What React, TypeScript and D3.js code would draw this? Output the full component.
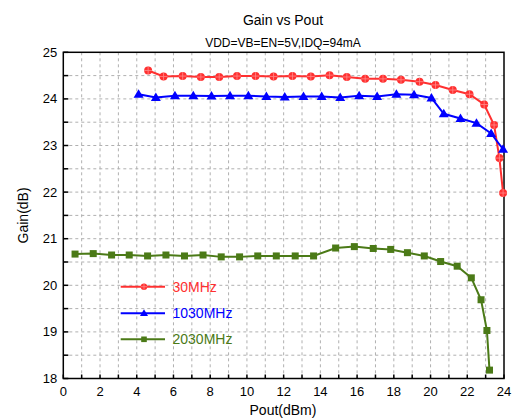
import React from "react";
import * as d3 from "d3";

const x30 = [4.62, 5.46, 6.5, 7.49, 8.49, 9.46, 10.47, 11.45, 12.48, 13.48, 14.5, 15.44, 16.44, 17.41, 18.39, 19.4, 20.27, 21.21, 22.12, 22.92, 23.46, 23.75, 23.95];
const g30 = [24.61, 24.48, 24.49, 24.47, 24.47, 24.49, 24.49, 24.48, 24.49, 24.48, 24.51, 24.47, 24.43, 24.43, 24.41, 24.37, 24.3, 24.19, 24.1, 23.88, 23.44, 22.73, 21.98];

const x1030 = [4.1, 5.04, 6.08, 7.08, 8.07, 9.08, 10.08, 11.06, 12.06, 13.08, 14.07, 15.08, 16.11, 17.09, 18.14, 19.1, 20.05, 20.72, 21.63, 22.5, 23.3, 23.95];
const g1030 = [24.1, 24.03, 24.07, 24.07, 24.06, 24.07, 24.07, 24.05, 24.04, 24.05, 24.05, 24.03, 24.07, 24.05, 24.1, 24.09, 24.02, 23.68, 23.58, 23.48, 23.26, 22.92];

const x2030 = [0.64, 1.63, 2.63, 3.59, 4.59, 5.59, 6.6, 7.61, 8.6, 9.6, 10.59, 11.6, 12.63, 13.63, 14.83, 15.85, 16.88, 17.83, 18.74, 19.66, 20.55, 21.45, 22.22, 22.75, 23.07, 23.21];
const g2030 = [20.67, 20.68, 20.65, 20.65, 20.63, 20.65, 20.63, 20.65, 20.61, 20.61, 20.63, 20.63, 20.63, 20.63, 20.8, 20.83, 20.79, 20.77, 20.7, 20.63, 20.51, 20.41, 20.16, 19.69, 19.03, 18.18];

const seriesNames = ["30MHz", "1030MHz", "2030MHz"];
const xTickLabels = [0, 2, 4, 6, 8, 10, 12, 14, 16, 18, 20, 22, 24];
const yTickLabels = [18, 19, 20, 21, 22, 23, 24, 25];

const RED = "#ff3030";
const BLUE = "#0000ff";
const GREEN = "#4b7a17";
const FONT = "'Liberation Sans', Arial, sans-serif";

function Marker({ kind, x, y, color, size = 1 }: { kind: string; x: number; y: number; color: string; size?: number }) {
  if (kind === "circle") {
    const r = 4 * size;
    return (
      <g>
        <circle cx={x} cy={y} r={r} fill={color} />
        <line x1={x - r} x2={x + r} y1={y} y2={y} stroke="#ff8a8a" strokeWidth={0.8} />
        <line x1={x} x2={x} y1={y - r} y2={y + r} stroke="#ff8a8a" strokeWidth={0.8} />
      </g>
    );
  }
  if (kind === "tri") {
    const s = 5 * size;
    return <path d={`M${x},${y - s} L${x + s},${y + s * 0.7} L${x - s},${y + s * 0.7} Z`} fill={color} />;
  }
  const h = 3.5 * size;
  return <rect x={x - h} y={y - h} width={2 * h} height={2 * h} fill={color} />;
}

export default function App() {
  const W = 513, H = 419;
  const L = 63.3, R = 504, T = 52.3, B = 378.5;
  const xs = d3.scaleLinear().domain([0, 24]).range([L, R]);
  const ys = d3.scaleLinear().domain([18, 25]).range([B, T]);

  const series = [
    { name: seriesNames[0], xv: x30, yv: g30, color: RED, kind: "circle" },
    { name: seriesNames[1], xv: x1030, yv: g1030, color: BLUE, kind: "tri" },
    { name: seriesNames[2], xv: x2030, yv: g2030, color: GREEN, kind: "sq" },
  ];

  const line = d3.line<[number, number]>().x((d) => xs(d[0])).y((d) => ys(d[1]));

  const xGrid = d3.range(1, 24, 1);
  const yGrid = d3.range(18.5, 25, 0.5);
  const yTicks = d3.range(18, 25.01, 0.5);
  const xTicks = d3.range(0, 24.01, 1);

  const legendY = [286.7, 313.3, 339.3];

  return (
    <svg width={W} height={H} style={{ position: "absolute", left: 0, top: 0, background: "#fff" }} fontFamily={FONT}>
      <text x={283} y={25} textAnchor="middle" fontSize={14}>Gain vs Pout</text>
      <text x={283} y={47} textAnchor="middle" fontSize={12}>VDD=VB=EN=5V,IDQ=94mA</text>

      {xGrid.map((v) => (
        <line key={"xg" + v} x1={xs(v)} x2={xs(v)} y1={T} y2={B} stroke="#b0b0b0" strokeWidth={1} strokeDasharray="3,3" />
      ))}
      {yGrid.map((v) => (
        <line key={"yg" + v} x1={L} x2={R} y1={ys(v)} y2={ys(v)} stroke="#b0b0b0" strokeWidth={1} strokeDasharray="3,3" />
      ))}

      {yTicks.map((v) => (
        <line key={"yt" + v} x1={L} x2={L + 5} y1={ys(v)} y2={ys(v)} stroke="#000" strokeWidth={1.5} />
      ))}
      {xTicks.map((v) => (
        <line key={"xt" + v} x1={xs(v)} x2={xs(v)} y1={B} y2={B - 4} stroke="#000" strokeWidth={1.5} />
      ))}

      <rect x={L} y={T} width={R - L} height={B - T} fill="none" stroke="#000" strokeWidth={1.5} />

      {yTickLabels.map((v) => (
        <text key={"yl" + v} x={L - 6} y={ys(v) + 4.5} textAnchor="end" fontSize={13}>{v}</text>
      ))}
      {xTickLabels.map((v) => (
        <text key={"xl" + v} x={xs(v)} y={B + 17} textAnchor="middle" fontSize={13}>{v}</text>
      ))}

      <text x={283} y={415} textAnchor="middle" fontSize={14}>Pout(dBm)</text>
      <text transform={`translate(28,${(T + B) / 2}) rotate(-90)`} textAnchor="middle" fontSize={14}>Gain(dB)</text>

      {series.map((s) => {
        const pts = s.xv.map((xv, i) => [xv, s.yv[i]] as [number, number]);
        return (
          <g key={s.name}>
            <path d={line(pts) || ""} fill="none" stroke={s.color} strokeWidth={2} />
            {pts.map((p, i) => (
              <Marker key={i} kind={s.kind} x={xs(p[0])} y={ys(p[1])} color={s.color} />
            ))}
          </g>
        );
      })}

      {series.map((s, i) => (
        <g key={"lg" + s.name}>
          <line x1={120.7} x2={165} y1={legendY[i]} y2={legendY[i]} stroke={s.color} strokeWidth={2} />
          <Marker kind={s.kind} x={144} y={legendY[i]} color={s.color} size={0.8} />
          <text x={172.5} y={legendY[i] + 5} fontSize={14} fill={s.color}>{s.name}</text>
        </g>
      ))}
    </svg>
  );
}
